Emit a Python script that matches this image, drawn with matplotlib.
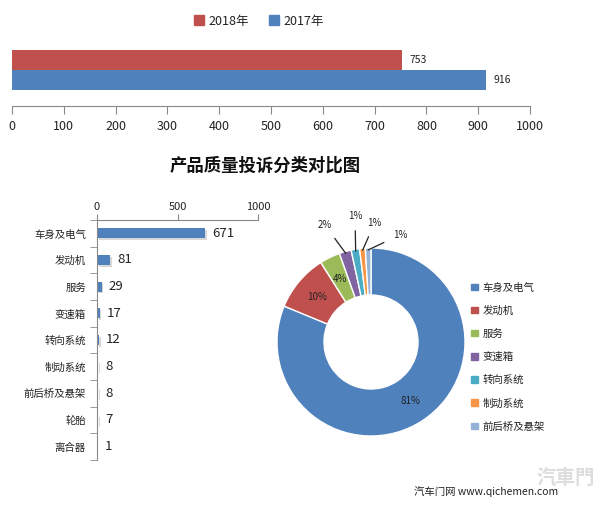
import matplotlib
matplotlib.use("Agg")
import matplotlib.pyplot as plt
import matplotlib.patheffects as pe
import numpy as np

plt.rcParams['font.family'] = ['Noto Sans CJK SC', 'DejaVu Sans']

# ---------------- data ----------------
years = ['2018年', '2017年']
year_totals = [753, 916]
year_colors = ['#C0504D', '#4F81BD']

categories = ['车身及电气', '发动机', '服务', '变速箱', '转向系统', '制动系统', '前后桥及悬架', '轮胎', '离合器']
cat_values = [671, 81, 29, 17, 12, 8, 8, 7, 1]

pie_labels = ['车身及电气', '发动机', '服务', '变速箱', '转向系统', '制动系统', '前后桥及悬架']
pie_values = [671, 81, 29, 17, 12, 8, 8]
pie_colors = ['#4F81BD', '#C0504D', '#9BBB59', '#8064A2', '#4BACC6', '#F79646', '#95B3D7']

top_ticks = [0, 100, 200, 300, 400, 500, 600, 700, 800, 900, 1000]
left_ticks = [0, 500, 1000]

title = '产品质量投诉分类对比图'
source = '汽车门网 www.qichemen.com'

W, H = 603, 508
fig = plt.figure(figsize=(W / 100, H / 100), dpi=100)
fig.patch.set_facecolor('white')


def ax_px(l, t, r, b):
    return fig.add_axes([l / W, 1 - b / H, (r - l) / W, (b - t) / H])


txt = '#222222'

# ---------------- top comparison bars ----------------
ax1 = ax_px(12, 40, 530, 106)
pos = np.arange(len(years))
ax1.barh(pos, year_totals, height=1.0, color=year_colors)
for p, v in zip(pos, year_totals):
    ax1.text(v + 14, p, str(v), va='center', ha='left', fontsize=7.5, color=txt)
ax1.set_xlim(0, 1000)
ax1.set_ylim(2.3, -1)
ax1.set_xticks(top_ticks)
ax1.set_xticklabels([str(t) for t in top_ticks], fontsize=9, color=txt)
ax1.set_yticks([])
for s in ['top', 'left', 'right']:
    ax1.spines[s].set_visible(False)
ax1.spines['bottom'].set_color('#888888')
ax1.tick_params(axis='x', direction='out', length=6, color='#888888', pad=4)

handles = [plt.Rectangle((0, 0), 1, 1, color=c) for c in year_colors]
fig.legend(handles, years, loc='center', bbox_to_anchor=(259 / W, 1 - 21 / H), ncol=2,
           frameon=False, fontsize=9, handlelength=0.8, handleheight=0.8,
           handletextpad=0.35, columnspacing=1.6, labelcolor=txt)

# ---------------- title ----------------
fig.text(265 / W, 1 - 166 / H, title, ha='center', va='center', fontsize=12.5,
         fontweight='bold', color='#111111')

# ---------------- category bars ----------------
ax2 = ax_px(97, 220, 258, 460)
ypos = np.arange(len(categories))
shadow = [pe.withSimplePatchShadow(offset=(1.2, -1.2), alpha=0.25, shadow_rgbFace='#666666')]
b2 = ax2.barh(ypos, cat_values, height=0.38, color='#4F81BD')
for r in b2:
    r.set_path_effects(shadow)
for y, v in zip(ypos, cat_values):
    ax2.text(v + 45, y, str(v), va='center', ha='left', fontsize=9.5, color=txt)
ax2.set_xlim(0, 1000)
ax2.set_ylim(len(categories) - 0.5, -0.5)
ax2.xaxis.tick_top()
ax2.set_xticks(left_ticks)
ax2.set_xticklabels([str(t) for t in left_ticks], fontsize=8, color=txt)
ax2.set_yticks(ypos)
ax2.set_yticklabels(categories, fontsize=7.5, color=txt)
ax2.set_yticks(np.arange(len(categories) + 1) - 0.5, minor=True)
ax2.tick_params(axis='y', which='major', length=0, pad=8)
ax2.tick_params(axis='y', which='minor', length=5, color='#888888', direction='out')
ax2.tick_params(axis='x', length=4, color='#888888', direction='out', pad=2)
for s in ['bottom', 'right']:
    ax2.spines[s].set_visible(False)
ax2.spines['top'].set_color('#888888')
ax2.spines['left'].set_color('#888888')

# ---------------- donut ----------------
cx, cy, R = 371, 342, 94
half = 150
ax3 = ax_px(cx - half, cy - half, cx + half, cy + half)
wedges, _ = ax3.pie(pie_values, colors=pie_colors, startangle=90, counterclock=False,
                    radius=1.0, wedgeprops=dict(width=0.5, edgecolor='white', linewidth=1))
ax3.set_xlim(-half / R, half / R)
ax3.set_ylim(-half / R, half / R)
ax3.set_aspect('equal')
ax3.axis('off')
total = sum(pie_values)
pcts = [round(v / total * 100) for v in pie_values]
outside_pos = {3: (-0.49, 1.245), 4: (-0.17, 1.34), 5: (0.04, 1.27), 6: (0.31, 1.14)}
for i, w in enumerate(wedges):
    mid = np.deg2rad((w.theta1 + w.theta2) / 2)
    lab = f'{pcts[i]}%'
    if i < 3:
        ax3.text(0.75 * np.cos(mid), 0.75 * np.sin(mid), lab, ha='center', va='center',
                 fontsize=7, color='#222222')
    else:
        tx, ty = outside_pos[i]
        ax3.annotate(lab, xy=(0.98 * np.cos(mid), 0.98 * np.sin(mid)), xytext=(tx, ty),
                     ha='center', va='center', fontsize=7, color='#222222',
                     arrowprops=dict(arrowstyle='-', color='#222222', lw=0.9,
                                     shrinkA=5, shrinkB=0))

handles3 = [plt.Rectangle((0, 0), 1, 1, color=c) for c in pie_colors]
fig.legend(handles3, pie_labels, loc='upper left', bbox_to_anchor=(462 / W, 1 - 273 / H),
           frameon=False, fontsize=7.5, handlelength=0.6, handleheight=0.6,
           handletextpad=0.5, labelspacing=1.25, labelcolor=txt)

# ---------------- source / watermark ----------------
fig.text(566 / W, 1 - 478 / H, '汽車門', ha='center', va='center', fontsize=14,
         color='#dddddd', fontweight='bold')
fig.text(486 / W, 1 - 492 / H, source, ha='center', va='center', fontsize=7.5, color=txt)

fig.savefig('out.png', dpi=100, facecolor='white')
